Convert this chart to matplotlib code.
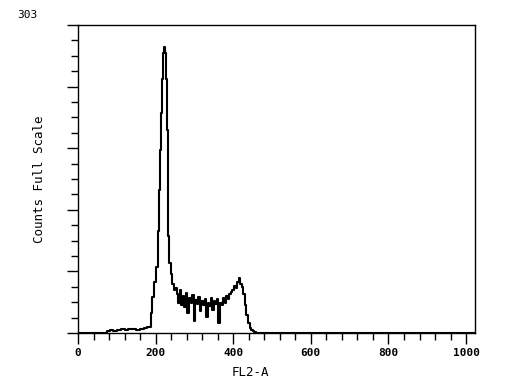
import matplotlib
matplotlib.use("Agg")
import matplotlib.pyplot as plt
import numpy as np

# FL2 histogram (channel, counts)
channels = [0, 70, 78, 85, 95, 105, 115, 125, 135, 145, 155, 165, 175, 182, 186,
            190, 193, 198, 204, 208, 211, 214, 216, 218, 220, 222, 225, 228, 230,
            232, 234, 237, 241, 245, 249, 253,
            256, 260, 264, 268, 272, 276, 280, 284, 288, 292, 296, 300, 304, 308,
            312, 316, 320, 324, 328, 332, 336, 340, 344, 348, 352, 356, 360, 364,
            368, 372, 376, 380, 384, 388, 392, 396, 400, 404, 408, 412, 416, 420,
            424, 428, 432, 436, 440, 444, 448, 452, 456, 460, 1023]
counts = [0, 0, 2, 3, 2, 3, 4, 3, 4, 4, 3, 4, 5, 6, 6,
          20, 35, 50, 65, 100, 141, 180, 216, 250, 275, 281, 275, 250, 200,
          130, 95, 69, 58, 48, 42, 44,
          38, 30, 42, 28, 36, 26, 39, 20, 34, 30, 37, 12, 32, 29,
          35, 22, 31, 28, 33, 16, 30, 27, 34, 23, 31, 29, 33, 10,
          30, 28, 34, 30, 36, 33, 38, 40, 42, 46, 44, 50, 54, 48,
          45, 38, 28, 18, 10, 5, 3, 2, 1, 0, 0]

full_scale = 303
xticks = [0, 200, 400, 600, 800, 1000]

fig = plt.figure(figsize=(5.12, 3.77), dpi=100)
ax = fig.add_axes([78 / 512, 1 - 333 / 377, 397 / 512, 308 / 377])

ax.plot(channels, counts, color="black", lw=1.5, drawstyle="steps-mid")

ax.set_xlim(0, 1023)
ax.set_ylim(0, full_scale)
ax.set_xticks(xticks)
ax.set_xticklabels([str(t) for t in xticks], family="DejaVu Sans Mono",
                   fontsize=8, fontweight="bold")
ax.set_xticks(np.arange(0, 1001, 40), minor=True)
ax.set_yticks(np.linspace(0, full_scale, 6))
ax.set_yticklabels([])
ax.set_yticks(np.linspace(0, full_scale, 21), minor=True)
ax.tick_params(which="major", direction="out", length=8, width=1, pad=3)
ax.tick_params(which="minor", direction="out", length=5, width=1)
for s in ax.spines.values():
    s.set_linewidth(1)

ax.set_ylabel("Counts Full Scale", family="DejaVu Sans Mono", fontsize=9, labelpad=12)
ax.text(-0.128, 1.032, "303", transform=ax.transAxes, ha="center", va="center",
        family="DejaVu Sans Mono", fontsize=8)
fig.text(250 / 512, 1 - 372 / 377, "FL2-A", ha="center", va="center",
         family="DejaVu Sans Mono", fontsize=9)

fig.savefig("out.png", dpi=100)
